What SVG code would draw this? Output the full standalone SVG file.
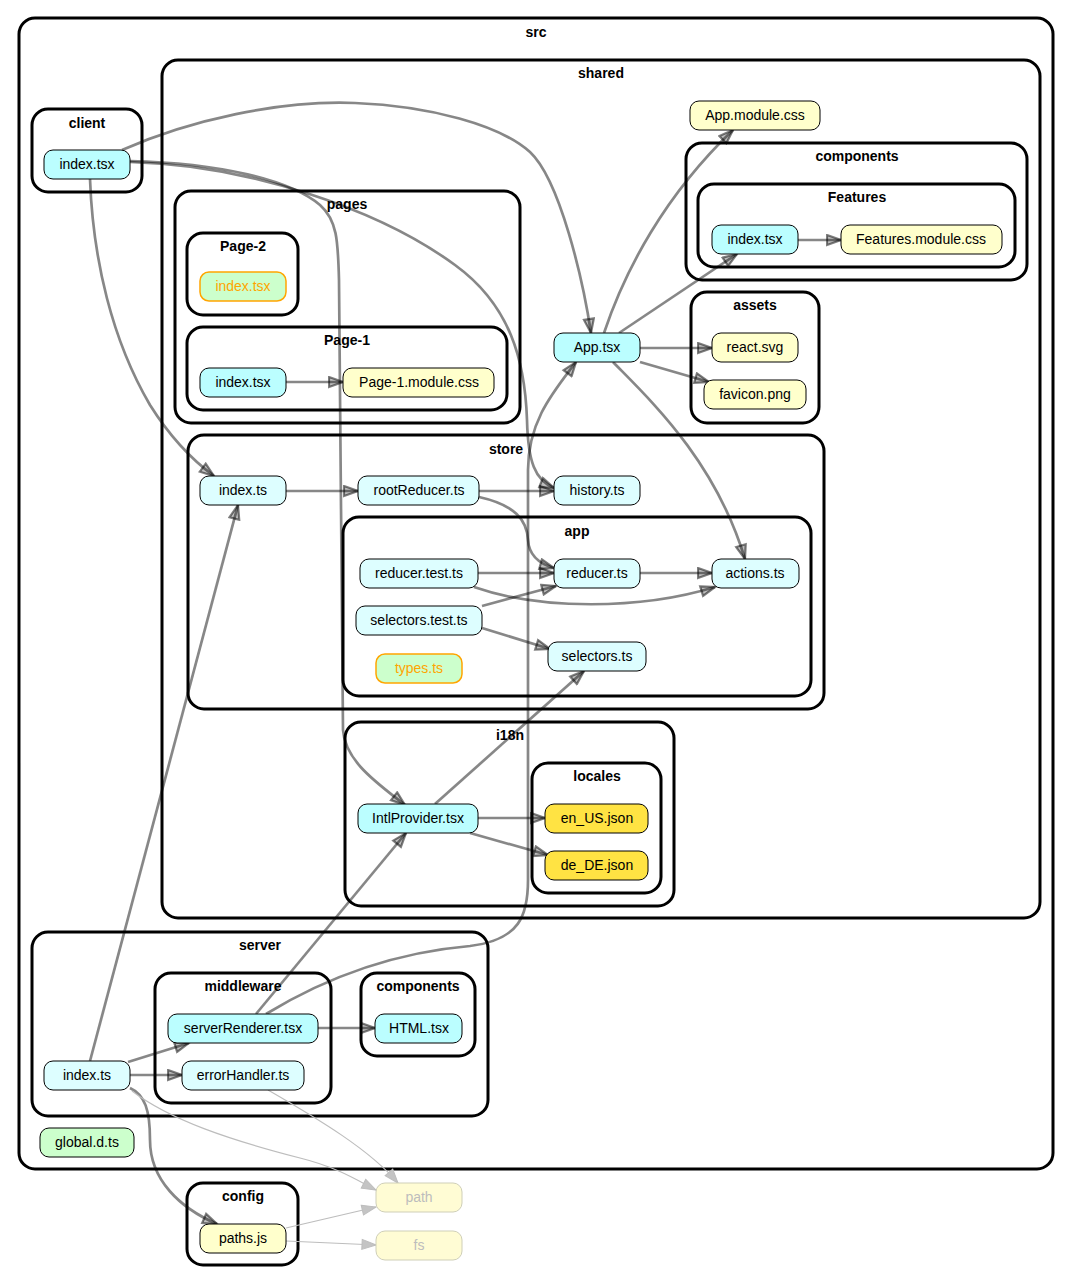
<svg xmlns="http://www.w3.org/2000/svg" width="1072" height="1285" viewBox="0 0 1072 1285">
<style>
.cl{fill:none;stroke:#000;stroke-width:3}
.ct{font-family:"Liberation Sans",Arial,sans-serif;font-size:14px;font-weight:bold;text-anchor:middle;fill:#000}
.n{stroke:#000;stroke-width:1}
.t{font-family:"Liberation Sans",Arial,sans-serif;font-size:14px;text-anchor:middle;fill:#000}
.tsx{fill:#bbfeff}
.ts{fill:#ddfeff}
.css{fill:#ffffcc}
.json{fill:#ffe343}
.dts{fill:#ccffcc}
.orph{fill:#ccffcc;stroke:#ffa500;stroke-width:1.5}
.to{fill:#ffa500}
.ext{fill:#fffcd4;stroke:#cfcfb8;stroke-width:1}
.tx{fill:#bdbdbd}
.e{fill:none;stroke:#000;stroke-opacity:0.47;stroke-width:2.7;marker-end:url(#a)}
.el{fill:none;stroke:#bdbdbd;stroke-width:1.2;marker-end:url(#al)}
</style>
<defs>
<marker id="a" viewBox="0 0 17 13" refX="15.5" refY="6.5" markerWidth="17" markerHeight="13" markerUnits="userSpaceOnUse" orient="auto">
<path d="M1.5,1.5 L15.5,6.5 L1.5,11.5 Z" fill="#000" fill-opacity="0.25" stroke="#000" stroke-opacity="0.5" stroke-width="2.2" stroke-linejoin="miter"/>
</marker>
<marker id="al" viewBox="0 0 16 12" refX="15" refY="6" markerWidth="16" markerHeight="12" markerUnits="userSpaceOnUse" orient="auto">
<path d="M1,1 L15,6 L1,11 Z" fill="#c4c4c4" stroke="#bdbdbd" stroke-width="1"/>
</marker>
</defs>
<rect width="1072" height="1285" fill="#fff"/>

<g id="clusters">
<g id="c-src"><rect class="cl" x="19" y="18" width="1034" height="1151" rx="16"/><text class="ct" x="536" y="37">src</text></g>
<g id="c-client"><rect class="cl" x="32" y="109" width="110" height="83" rx="16"/><text class="ct" x="87" y="128">client</text></g>
<g id="c-shared"><rect class="cl" x="162" y="60" width="878" height="858" rx="16"/><text class="ct" x="601" y="78">shared</text></g>
<g id="c-pages"><rect class="cl" x="175" y="191" width="345" height="232" rx="16"/><text class="ct" x="347" y="209">pages</text></g>
<g id="c-page2"><rect class="cl" x="187" y="233" width="111" height="82" rx="16"/><text class="ct" x="243" y="251">Page-2</text></g>
<g id="c-page1"><rect class="cl" x="187" y="327" width="320" height="83" rx="16"/><text class="ct" x="347" y="345">Page-1</text></g>
<g id="c-components"><rect class="cl" x="686" y="143" width="341" height="137" rx="16"/><text class="ct" x="857" y="161">components</text></g>
<g id="c-features"><rect class="cl" x="698" y="184" width="317" height="83" rx="16"/><text class="ct" x="857" y="202">Features</text></g>
<g id="c-assets"><rect class="cl" x="691" y="292" width="128" height="131" rx="16"/><text class="ct" x="755" y="310">assets</text></g>
<g id="c-store"><rect class="cl" x="188" y="435" width="636" height="274" rx="16"/><text class="ct" x="506" y="454">store</text></g>
<g id="c-app"><rect class="cl" x="343" y="517" width="468" height="179" rx="16"/><text class="ct" x="577" y="536">app</text></g>
<g id="c-i18n"><rect class="cl" x="345" y="722" width="329" height="184" rx="16"/><text class="ct" x="510" y="740">i18n</text></g>
<g id="c-locales"><rect class="cl" x="532" y="763" width="129" height="130" rx="16"/><text class="ct" x="597" y="781">locales</text></g>
<g id="c-server"><rect class="cl" x="32" y="932" width="456" height="184" rx="16"/><text class="ct" x="260" y="950">server</text></g>
<g id="c-middleware"><rect class="cl" x="155" y="973" width="176" height="130" rx="16"/><text class="ct" x="243" y="991">middleware</text></g>
<g id="c-scomponents"><rect class="cl" x="361" y="973" width="114" height="83" rx="16"/><text class="ct" x="418" y="991">components</text></g>
<g id="c-config"><rect class="cl" x="187" y="1183" width="111" height="82" rx="16"/><text class="ct" x="243" y="1201">config</text></g>
</g>

<g id="edges">
<path class="e" d="M122,150 C190,120 280,100 355,103 C430,106 500,125 530,152 C560,180 583,280 591,333"/>
<path class="e" d="M90,179 C93,260 112,340 150,405 C172,440 195,462 214,476"/>
<path class="e" d="M130,162 C250,165 380,210 455,265 C510,305 525,360 527,420 C528,462 535,480 554,488"/>
<path class="e" d="M130,161 C220,163 290,180 320,205 C337,220 338,240 339,280 L343,730 C345,762 380,785 405,805"/>
<path class="e" d="M604,333 C625,270 665,195 733,130"/>
<path class="e" d="M619,333 L737,254"/>
<path class="e" d="M640,348 L712,348"/>
<path class="e" d="M640,362 L709,382"/>
<path class="e" d="M613,362 C650,400 715,460 745,559"/>
<path class="e" d="M798,240 L841,240"/>
<path class="e" d="M286,382 L343,382"/>
<path class="e" d="M286,491 L358,491"/>
<path class="e" d="M479,491 L554,491"/>
<path class="e" d="M479,497 C515,505 527,520 528,540 C529,556 540,564 554,568"/>
<path class="e" d="M478,573 L554,573"/>
<path class="e" d="M474,587 C540,610 640,610 715,587"/>
<path class="e" d="M640,573 L712,573"/>
<path class="e" d="M482,606 L556,586"/>
<path class="e" d="M482,628 L550,649"/>
<path class="e" d="M435,804 L584,671"/>
<path class="e" d="M478,818 L545,818"/>
<path class="e" d="M470,833 L548,855"/>
<path class="e" d="M90,1061 L238,505"/>
<path class="e" d="M128,1062 L189,1043"/>
<path class="e" d="M130,1075 L182,1075"/>
<path class="e" d="M130,1088 C145,1095 150,1110 150,1140 C150,1180 180,1208 217,1224"/>
<path class="el" d="M132,1091 C170,1120 230,1140 300,1158 C340,1168 360,1182 376,1190"/>
<path class="el" d="M268,1090 C320,1120 370,1150 398,1183"/>
<path class="el" d="M286,1228 L376,1207"/>
<path class="el" d="M286,1241 L376,1245"/>
<path class="e" d="M256,1014 L406,833"/>
<path class="e" d="M318,1028 L375,1028"/>
<path class="e" d="M266,1014 C330,975 400,952 470,946 C520,940 528,915 528,880 L528,470 C528,420 555,390 576,362"/>
</g>

<g id="nodes">
<g id="n-client-index"><rect class="n tsx" x="44" y="150" width="86" height="29" rx="9"/><text class="t" x="87" y="169">index.tsx</text></g>
<g id="n-app-module-css"><rect class="n css" x="690" y="101" width="130" height="29" rx="9"/><text class="t" x="755" y="120">App.module.css</text></g>
<g id="n-features-index"><rect class="n tsx" x="712" y="225" width="86" height="29" rx="9"/><text class="t" x="755" y="244">index.tsx</text></g>
<g id="n-features-css"><rect class="n css" x="841" y="225" width="161" height="29" rx="9"/><text class="t" x="921" y="244">Features.module.css</text></g>
<g id="n-app-tsx"><rect class="n tsx" x="554" y="333" width="86" height="29" rx="9"/><text class="t" x="597" y="352">App.tsx</text></g>
<g id="n-react-svg"><rect class="n css" x="712" y="333" width="86" height="29" rx="9"/><text class="t" x="755" y="352">react.svg</text></g>
<g id="n-favicon"><rect class="n css" x="704" y="380" width="102" height="29" rx="9"/><text class="t" x="755" y="399">favicon.png</text></g>
<g id="n-page2-index"><rect class="orph" x="200" y="272" width="86" height="29" rx="9"/><text class="t to" x="243" y="291">index.tsx</text></g>
<g id="n-page1-index"><rect class="n tsx" x="200" y="368" width="86" height="29" rx="9"/><text class="t" x="243" y="387">index.tsx</text></g>
<g id="n-page1-css"><rect class="n css" x="343" y="368" width="151" height="29" rx="9"/><text class="t" x="419" y="387">Page-1.module.css</text></g>
<g id="n-store-index"><rect class="n ts" x="200" y="476" width="86" height="29" rx="9"/><text class="t" x="243" y="495">index.ts</text></g>
<g id="n-rootreducer"><rect class="n ts" x="358" y="476" width="121" height="29" rx="9"/><text class="t" x="419" y="495">rootReducer.ts</text></g>
<g id="n-history"><rect class="n ts" x="554" y="476" width="86" height="29" rx="9"/><text class="t" x="597" y="495">history.ts</text></g>
<g id="n-reducer-test"><rect class="n ts" x="360" y="559" width="118" height="29" rx="9"/><text class="t" x="419" y="578">reducer.test.ts</text></g>
<g id="n-reducer"><rect class="n ts" x="554" y="559" width="86" height="29" rx="9"/><text class="t" x="597" y="578">reducer.ts</text></g>
<g id="n-actions"><rect class="n ts" x="712" y="559" width="87" height="29" rx="9"/><text class="t" x="755" y="578">actions.ts</text></g>
<g id="n-selectors-test"><rect class="n ts" x="356" y="606" width="126" height="29" rx="9"/><text class="t" x="419" y="625">selectors.test.ts</text></g>
<g id="n-selectors"><rect class="n ts" x="548" y="642" width="98" height="29" rx="9"/><text class="t" x="597" y="661">selectors.ts</text></g>
<g id="n-types"><rect class="orph" x="376" y="654" width="86" height="29" rx="9"/><text class="t to" x="419" y="673">types.ts</text></g>
<g id="n-intlprovider"><rect class="n tsx" x="358" y="804" width="120" height="29" rx="9"/><text class="t" x="418" y="823">IntlProvider.tsx</text></g>
<g id="n-en-us"><rect class="n json" x="545" y="804" width="103" height="29" rx="9"/><text class="t" x="597" y="823">en_US.json</text></g>
<g id="n-de-de"><rect class="n json" x="545" y="851" width="103" height="29" rx="9"/><text class="t" x="597" y="870">de_DE.json</text></g>
<g id="n-serverrenderer"><rect class="n tsx" x="168" y="1014" width="150" height="29" rx="9"/><text class="t" x="243" y="1033">serverRenderer.tsx</text></g>
<g id="n-html"><rect class="n tsx" x="375" y="1014" width="87" height="29" rx="9"/><text class="t" x="419" y="1033">HTML.tsx</text></g>
<g id="n-server-index"><rect class="n ts" x="44" y="1061" width="86" height="29" rx="9"/><text class="t" x="87" y="1080">index.ts</text></g>
<g id="n-errorhandler"><rect class="n ts" x="182" y="1061" width="122" height="29" rx="9"/><text class="t" x="243" y="1080">errorHandler.ts</text></g>
<g id="n-global"><rect class="n dts" x="40" y="1128" width="94" height="29" rx="9"/><text class="t" x="87" y="1147">global.d.ts</text></g>
<g id="n-paths"><rect class="n css" x="200" y="1224" width="86" height="29" rx="9"/><text class="t" x="243" y="1243">paths.js</text></g>
<g id="n-path"><rect class="ext" x="376" y="1183" width="86" height="29" rx="9"/><text class="t tx" x="419" y="1202">path</text></g>
<g id="n-fs"><rect class="ext" x="376" y="1231" width="86" height="29" rx="9"/><text class="t tx" x="419" y="1250">fs</text></g>
</g>
</svg>
